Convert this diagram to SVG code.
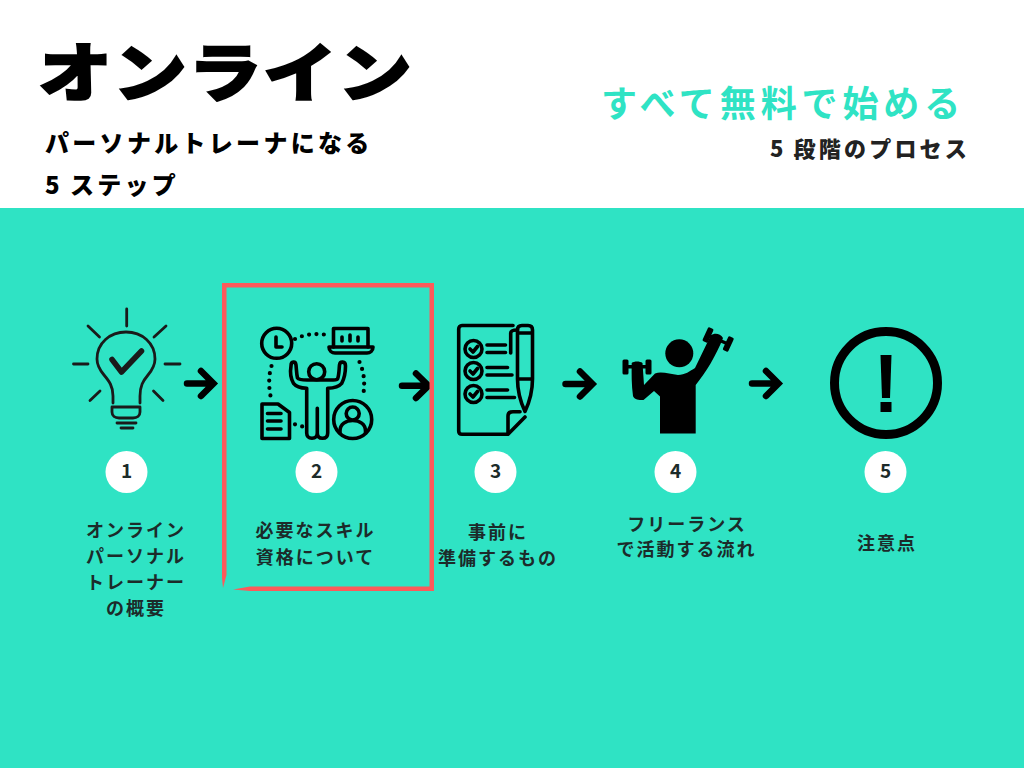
<svg xmlns="http://www.w3.org/2000/svg" width="1024" height="768" viewBox="0 0 1024 768">
<style>
text{font-family:"Noto Sans CJK JP","Noto Sans",sans-serif}
.lbl{font-size:18px;font-weight:700;fill:#1c2b2a;letter-spacing:2px;text-anchor:middle}
.num{font-size:19px;font-weight:700;fill:#1c2b2a;text-anchor:middle}
.badge{fill:#fff}
.ln{fill:none;stroke:#000;stroke-width:3.6;stroke-linecap:round;stroke-linejoin:round}
.dot{fill:none;stroke:#000;stroke-width:4.2;stroke-linecap:round;stroke-dasharray:0 7.4}
.bulb{fill:none;stroke:#1a1a1a;stroke-width:2.8;stroke-linecap:round;stroke-linejoin:round}
.arr{fill:none;stroke:#000;stroke-width:6.500;stroke-linecap:round;stroke-linejoin:miter}
</style>
<rect width="1024" height="768" fill="#fff"/>
<rect y="208" width="1024" height="560" fill="#2fe3c4"/>
<g id="header">
<text transform="translate(38 96) scale(1 .86)" font-size="74" font-weight="900" letter-spacing="1" fill="#000" stroke="#000" stroke-width="2">オンライン</text>
<text x="45" y="152" font-size="24" font-weight="900" letter-spacing="3.300" fill="#000">パーソナルトレーナになる</text>
<text x="45" y="194" font-size="24" font-weight="900" letter-spacing="3.300" fill="#000">5<tspan dx="7">ステップ</tspan></text>
<text x="601" y="117" font-size="36" font-weight="700" letter-spacing="4.900" fill="#2fe3c4">すべて無料で始める</text>
<text x="770" y="157" font-size="22" font-weight="900" letter-spacing="3.200" fill="#222">5<tspan dx="7">段階のプロセス</tspan></text>
</g>
<g id="connectors">
<path class="arr" d="M187 383.500H212M201 371L213.500 383.500L201 396"/>
<path class="arr" d="M402 385.700H427M416 373.500L428.500 385.700L416 398"/>
<path class="arr" d="M565.500 384H591M580 371.500L592.500 384L580 396.500"/>
<path class="arr" d="M752 383.500H777M766 371L778.500 383.500L766 396"/>
</g>
<g id="highlight">
<path d="M222 283H434V591H250L233 589.500L250 586.500H429.500V287.500H226.500V575L223 588L222 578Z" fill="#fc5a5a"/>
</g>
<g id="step1">
<g class="bulb">
<path d="M126.700 309V326M88 326L99.500 337M166 326L154 337M73.500 364H88M165 364H180M100 391L90 400.500M153.500 391L163 400.500"/>
<path d="M113 403V396C113 386 109 381 104 375C99 369 97 364 97 359C97 343 110 332 126 332C142 332 155 343 155 359C155 364 153 369 148 375C143 381 140 386 140 396V403"/>
<path d="M112 407H140V412C140 416 137 418 133 418H119C115 418 112 416 112 412Z"/>
<path d="M117 423H136M121 428H133"/>
</g>
<path d="M112 359.500L121.500 372L141.500 351" fill="none" stroke="#1a1a1a" stroke-width="5.500" stroke-linecap="round" stroke-linejoin="round"/>
<circle class="badge" cx="126.500" cy="472" r="21"/><text class="num" x="126.500" y="478">1</text>
<text class="lbl" x="136" y="537">オンライン</text>
<text class="lbl" x="136" y="563">パーソナル</text>
<text class="lbl" x="136" y="589">トレーナー</text>
<text class="lbl" x="136" y="615">の概要</text>
</g>
<g id="step2">
<circle class="ln" cx="276.700" cy="343.300" r="15"/>
<path class="ln" d="M276 337V347H282"/>
<path class="ln" d="M333.500 347V328.500H368V347"/>
<path class="ln" d="M329 347H373C373 351 370 353 367 353H335C332 353 329 351 329 347Z"/>
<path class="ln" d="M342 337V341M350 335V341M358 337V341"/>
<path class="dot" d="M295 339C305 334 316 333 327 335"/>
<path class="dot" d="M271.500 366C268.500 375 268.500 388 271 398"/>
<path class="dot" d="M359.500 362C364 372 365 382 363.500 393"/>
<path class="dot" d="M295 424.300C299 426 302 426.500 305 426.700"/>
<circle class="ln" cx="316.700" cy="371.700" r="8"/>
<path class="ln" d="M291 366C290 372 291 379 293.500 383.300C296 386.500 301 388 306.700 388.300V433C306.700 436 308.500 438.300 312 438.300C315.500 438.300 317.300 436 317.300 433V408.300V433C317.300 436 319 438.300 322.500 438.300C326 438.300 327.700 436 327.700 433V388.300C334 388 339 386.500 341.700 383.300C344 379 345.500 372 345.500 366C345.500 361 340 361 339.500 365C339 370 339 376 337.500 379C336 380.500 330 380 326 380H307C303 380 299 380 297.500 378C296.500 374 296.500 370 296 365C295.500 361 291 361 291 366Z"/>
<path class="ln" d="M262 404H278L289.500 412.500V438.500H262Z"/>
<path class="ln" d="M267.500 413.500H281M267.500 421H281M267.500 429H281"/>
<circle class="ln" cx="352.700" cy="419.500" r="19"/>
<circle class="ln" cx="352.700" cy="413.500" r="6.500"/>
<path class="ln" d="M340 433V431C340 424 346 420.500 352.700 420.500C359.500 420.500 365.500 424 365.500 431V433"/>
<circle class="badge" cx="316.500" cy="472" r="21"/><text class="num" x="316.500" y="478">2</text>
<text class="lbl" x="315.500" y="537">必要なスキル</text>
<text class="lbl" x="315.500" y="564">資格について</text>
</g>
<g id="step3">
<path class="ln" d="M513 325.500H462C460 325.500 458.700 327 458.700 329V431C458.700 433 460 434.300 462 434.300H508L525 417"/>
<path class="ln" d="M508 433V416C508 413 510 411.700 513 411.700H520"/>
<path class="ln" d="M510.700 353V333C510.700 331 512 330 517.500 330"/>
<path class="ln" d="M517.500 379V330C517.500 327 519 325.500 522 325.500H528C531 325.500 532.500 327 532.500 330V379C532.500 392 529 403 525 411.500C521 403 517.500 392 517.500 379H532.500M517.500 333H532.500"/>
<circle class="ln" cx="473.500" cy="349" r="8.500"/><circle class="ln" cx="473.500" cy="371" r="8.500"/><circle class="ln" cx="473.500" cy="394" r="8.500"/>
<path class="ln" d="M470 349L473 352L477.500 346.500M470 371L473 374L477.500 368.500M470 394L473 397L477.500 391.500"/>
<path class="ln" d="M487 345H505.500M487 352.500H505.500M487 367.500H507.500M487 375H512M487 390H507.500M487 397.500H514.500"/>
<circle class="badge" cx="495.500" cy="472" r="21"/><text class="num" x="495.500" y="478">3</text>
<text class="lbl" x="498" y="539">事前に</text>
<text class="lbl" x="498" y="565">準備するもの</text>
</g>
<g id="step4">
<circle cx="679.300" cy="353.300" r="14"/>
<path d="M660 433.500V396.500L654 391L643.500 400C638 400.500 634 399 633 396C631.500 385 631.500 374 631.700 363C634 361 640 361 642.500 363C643 370 643.500 378 644 385L655 373.500C662 371 670 374.500 678 375C685 375 690 371 695 368L710.700 335.500C714 333 720 333 723 338C716 356 706 372 695.700 385V433.500Z"/>
<rect x="622.500" y="359.500" width="6" height="15" rx="1.500"/><rect x="645.500" y="359.500" width="6" height="15" rx="1.500"/>
<rect x="628" y="365" width="18" height="3.500"/>
<rect x="705" y="327.500" width="6" height="15" rx="1.500" transform="rotate(25 708 335)"/><rect x="725.300" y="336.500" width="6" height="15" rx="1.500" transform="rotate(25 728.300 344)"/>
<path d="M708.500 335.500L728 344" stroke="#000" stroke-width="3.500"/>
<circle class="badge" cx="675.500" cy="472" r="21"/><text class="num" x="675.500" y="478">4</text>
<text class="lbl" x="687" y="531">フリーランス</text>
<text class="lbl" x="686.500" y="556">で活動する流れ</text>
</g>
<g id="step5">
<circle cx="886" cy="383" r="51.500" fill="none" stroke="#000" stroke-width="9"/>
<path d="M880.500 355H891.500L890 398H882Z"/>
<rect x="880.500" y="402" width="11" height="10"/>
<circle class="badge" cx="885.500" cy="472" r="21"/><text class="num" x="885.500" y="478">5</text>
<text class="lbl" x="887" y="550">注意点</text>
</g>
</svg>
